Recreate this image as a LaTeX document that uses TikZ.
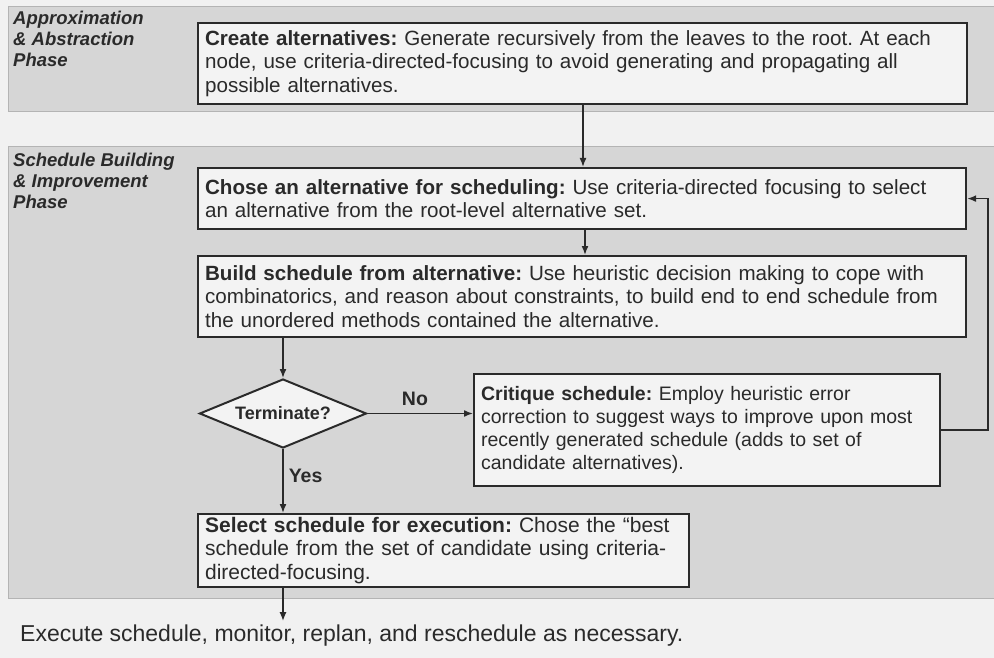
\documentclass[tikz,border=0pt]{standalone}
\usepackage{fontspec}
\setmainfont{Liberation Sans}
\usetikzlibrary{shapes.geometric,arrows.meta}
\definecolor{paper}{HTML}{F1F1F1}
\definecolor{band}{HTML}{D6D6D6}
\definecolor{bandline}{HTML}{B4B4B4}
\definecolor{boxfill}{HTML}{F3F3F3}
\definecolor{ink}{HTML}{2A2A2A}
\begin{document}
\frenchspacing
\begin{tikzpicture}[x=1pt,y=-1pt,
  bandrect/.style={fill=band, draw=bandline, line width=1pt},
  phaselabel/.style={anchor=north west, align=left, inner sep=0pt, text=ink,
    font=\fontsize{18.5}{21}\selectfont\bfseries\itshape},
  stepbox/.style={draw=ink, line width=2.2pt, fill=boxfill, anchor=north west,
    align=left, inner xsep=7pt, inner ysep=3pt, text=ink,
    font=\fontsize{20.6}{23.8}\selectfont},
  decision/.style={diamond, aspect=2.4, draw=ink, line width=2pt, fill=boxfill, inner sep=0pt,
    minimum width=167pt, minimum height=69pt, text=ink,
    font=\fontsize{18}{20}\selectfont\bfseries},
  flow/.style={draw=ink, line width=1.6pt, -{Latex[length=9pt,width=7pt]}},
  edgelabel/.style={text=ink, inner sep=0pt, font=\fontsize{19.5}{20}\selectfont\bfseries},
]
% page and phase bands
\fill[paper] (0,0) rectangle (994,658);
\useasboundingbox (0,0) rectangle (994,658);
\draw[bandrect] (8,7) rectangle (996,112);
\draw[bandrect] (8,147) rectangle (996,598);

\node[phaselabel] (ph1) at (13,11) {Approximation\\\& Abstraction\\Phase};
\node[phaselabel] (ph2) at (13,153) {Schedule Building\\\& Improvement\\Phase};

% process steps
\node[stepbox, text width=755pt, minimum height=81pt] (create) at (197,22)
  {\textbf{Create alternatives:} Generate recursively from the leaves to the root. At each\\
   node, use criteria-directed-focusing to avoid generating and propagating all\\
   possible alternatives.};
\node[stepbox, text width=754pt, minimum height=61pt] (chose) at (197,167)
  {\textbf{Chose an alternative for scheduling:} Use criteria-directed focusing to select\\
   an alternative from the root-level alternative set.};
\node[stepbox, text width=754pt, minimum height=81pt] (build) at (197,255)
  {\textbf{Build schedule from alternative:} Use heuristic decision making to cope with\\
   combinatorics, and reason about constraints, to build end to end schedule from\\
   the unordered methods contained the alternative.};
\node[decision] (term) at (283,413.5) {Terminate?};
\node[stepbox, text width=452pt, minimum height=112pt, font=\fontsize{19.5}{23}\selectfont] (crit) at (473,373)
  {\textbf{Critique schedule:} Employ heuristic error\\
   correction to suggest ways to improve upon most\\
   recently generated schedule (adds to set of\\
   candidate alternatives).};
\node[stepbox, text width=477pt, minimum height=72pt, font=\fontsize{21}{23.5}\selectfont] (sel) at (197,513)
  {\textbf{Select schedule for execution:} Chose the “best\\
   schedule from the set of candidate using criteria-\\
   directed-focusing.};
\node[anchor=base west, inner sep=0pt, text=ink, font=\fontsize{23}{25}\selectfont] (exec) at (20,641)
  {Execute schedule, monitor, replan, and reschedule as necessary.};

% connectors
\draw[flow] (create.south -| 583,0) -- (chose.north -| 583,0);
\draw[flow] (chose.south -| 585,0) -- (build.north -| 585,0);
\draw[flow] (build.south -| term.north) -- (term.north);
\draw[flow] (term.east) -- (crit.west |- term.east)
  node[edgelabel, pos=0.45, above=7pt] (nolabel) {No};
\draw[flow] (term.south) -- (sel.north -| term.south)
  node[edgelabel, pos=0.42, right=5pt] (yeslabel) {Yes};
\coordinate (loop) at (988,0);
\draw[flow] (crit.east) -| (loop |- chose.east) -- (chose.east);
\draw[flow] (sel.south -| term.south) -- ([yshift=3pt]exec.north -| term.south);
\end{tikzpicture}
\end{document}
